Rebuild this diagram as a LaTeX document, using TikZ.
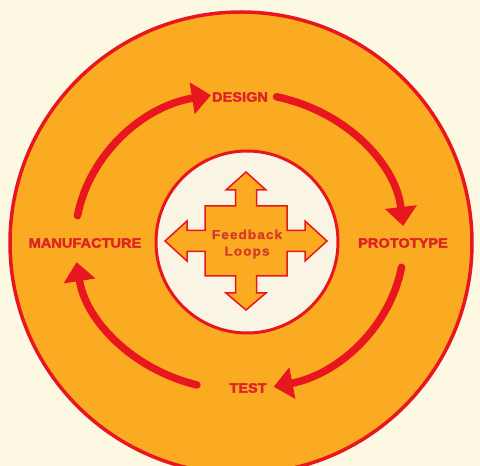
\documentclass[tikz,border=0pt]{standalone}
\usepackage{fontspec}
\usetikzlibrary{arrows.meta}
\newfontfamily\lab[FakeBold=2.5,FakeStretch=1.08]{Liberation Sans Bold}
\newfontfamily\fbk[FakeBold=1.5,LetterSpace=8,FakeStretch=1.05]{Liberation Sans Bold}
\definecolor{bg}{RGB}{252,248,226}
\definecolor{org}{RGB}{251,171,33}
\definecolor{rd}{RGB}{232,22,30}
\definecolor{inner}{RGB}{250,244,228}
\definecolor{txt}{RGB}{222,35,40}
\definecolor{fbtxt}{RGB}{214,58,40}
\begin{document}
\begin{tikzpicture}[x=1pt,y=1pt,
  lbl/.style={text=txt,font=\lab\fontsize{13.5}{14}\selectfont,inner sep=0pt},
  cyc/.style={draw=rd,line width=7.5pt,line cap=round,-{Triangle[length=19pt,width=31pt]}}]
\useasboundingbox (0,0) rectangle (480,466);
\fill[bg] (0,0) rectangle (480,466);
\begin{scope}
\clip (0,0) rectangle (480,466);
\draw[rd,line width=3.5pt,fill=org] (241,223) circle[radius=231];
\end{scope}
\draw[rd,line width=3pt,fill=inner] (247,224) circle[radius=91];
% cross
\draw[rd,line width=1.5pt,fill=org,line join=miter]
 (246,294) -- (266,276) -- (256.5,276) -- (256.5,260) -- (287,260) -- (287,235.5)
 -- (305,235.5) -- (305,245) -- (327,225) -- (305,205) -- (305,214.5) -- (287,214.5)
 -- (287,190) -- (256.5,190) -- (256.5,173) -- (266,173) -- (246,156) -- (226,173)
 -- (235.5,173) -- (235.5,190) -- (205,190) -- (205,214.5) -- (187,214.5) -- (187,205)
 -- (165,225) -- (187,245) -- (187,235.5) -- (205,235.5) -- (205,260) -- (235.5,260)
 -- (235.5,276) -- (226,276) -- cycle;
\node[text=fbtxt,font=\fbk\fontsize{13}{16.5}\selectfont,align=center,inner sep=0pt] (fb) at (247,222) {Feedback\\Loops};
% labels
\node[lbl] (design) at (240,369) {DESIGN};
\node[lbl] (proto) at (403,223) {PROTOTYPE};
\node[lbl] (test) at (248,78) {TEST};
\node[lbl] (manu) at (85,223) {MANUFACTURE};
% cycle arrows
\coordinate (C) at (239.5,224.5);
\draw[cyc] (C) ++(170:164.5 and 148.5) arc[start angle=170,end angle=100,x radius=164.5,y radius=148.5];
\draw[cyc] (C) ++(77:164.5 and 148.5) arc[start angle=77,end angle=6,x radius=164.5,y radius=148.5];
\draw[cyc] (C) ++(-10:164.5 and 148.5) arc[start angle=-10,end angle=-78,x radius=164.5,y radius=148.5];
\draw[cyc] (C) ++(-105:164.5 and 148.5) arc[start angle=-105,end angle=-172,x radius=164.5,y radius=148.5];
\end{tikzpicture}
\end{document}
